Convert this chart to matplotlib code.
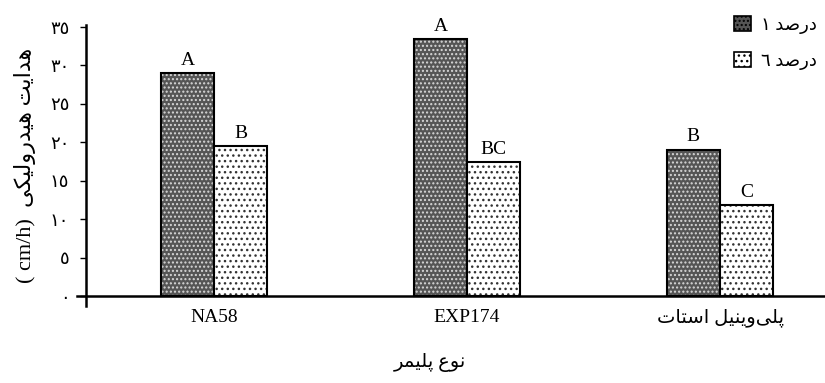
import numpy as np
import matplotlib
matplotlib.use("Agg")
import matplotlib.pyplot as plt
from matplotlib.patches import Patch

# data
categories = ["NA58", "EXP174", "پلی\u200cوینیل استات"]
one_pct = [29.0, 33.4, 19.0]
six_pct = [19.5, 17.4, 11.8]
one_letters = ["A", "A", "B"]
six_letters = ["B", "BC", "C"]
yticks = [0, 5, 10, 15, 20, 25, 30, 35]

# persian/arabic letters: isolated, final, initial, medial (None = no join to next)
FORMS = {
    "ا": ("\uFE8D", "\uFE8E", None, None),
    "د": ("\uFEA9", "\uFEAA", None, None),
    "ر": ("\uFEAD", "\uFEAE", None, None),
    "و": ("\uFEED", "\uFEEE", None, None),
    "ص": ("\uFEB9", "\uFEBA", "\uFEBB", "\uFEBC"),
    "ه": ("\uFEE9", "\uFEEA", "\uFEEB", "\uFEEC"),
    "ی": ("\uFBFC", "\uFBFD", "\uFBFE", "\uFBFF"),
    "ت": ("\uFE95", "\uFE96", "\uFE97", "\uFE98"),
    "ل": ("\uFEDD", "\uFEDE", "\uFEDF", "\uFEE0"),
    "ک": ("\uFB8E", "\uFB8F", "\uFB90", "\uFB91"),
    "ن": ("\uFEE5", "\uFEE6", "\uFEE7", "\uFEE8"),
    "ع": ("\uFEC9", "\uFECA", "\uFECB", "\uFECC"),
    "پ": ("\uFB56", "\uFB57", "\uFB58", "\uFB59"),
    "م": ("\uFEE1", "\uFEE2", "\uFEE3", "\uFEE4"),
    "س": ("\uFEB1", "\uFEB2", "\uFEB3", "\uFEB4"),
}


def fa(text):
    # shape letters and put them in visual (left to right) order
    out = []
    for i, c in enumerate(text):
        if c not in FORMS:
            out.append(c)
            continue
        prev = text[i - 1] if i > 0 else None
        nxt = text[i + 1] if i + 1 < len(text) else None
        jp = prev in FORMS and FORMS[prev][2] is not None
        jn = nxt in FORMS and FORMS[c][2] is not None
        iso, fin, ini, med = FORMS[c]
        if jp and jn:
            out.append(med)
        elif jp:
            out.append(fin)
        elif jn:
            out.append(ini)
        else:
            out.append(iso)
    return "".join(out).replace("\u200c", "")[::-1]


def ar_num(n):
    return "".join(chr(0x0660 + int(d)) for d in str(n))


fam = ["Liberation Serif", "DejaVu Sans"]
plt.rcParams["hatch.linewidth"] = 1.0

fig = plt.figure(figsize=(8.25, 3.83), dpi=100)
ax = fig.add_axes([86 / 825, 0.201, 1 - 86 / 825, 0.7337])

x = np.arange(len(categories))
w = 0.21
dark = "#555555"

ax.bar(x - w / 2, one_pct, w, color=dark, hatch="....", edgecolor="#d8d8d8", linewidth=0)
ax.bar(x - w / 2, one_pct, w, fill=False, edgecolor="black", linewidth=1.5)
ax.bar(x + w / 2, six_pct, w, color="white", hatch="...", edgecolor="#333333", linewidth=0)
ax.bar(x + w / 2, six_pct, w, fill=False, edgecolor="black", linewidth=1.5)

for xi, v, t in zip(x - w / 2, one_pct, one_letters):
    ax.text(xi, v + 0.6, t, ha="center", va="bottom", fontsize=14, family=fam)
for xi, v, t in zip(x + w / 2, six_pct, six_letters):
    ax.text(xi, v + 0.6, t, ha="center", va="bottom", fontsize=14, family=fam)

ax.set_xlim(-0.506, 2.415)
ax.set_ylim(-1.3, 35.26)
ax.axhline(0, xmin=-0.012, xmax=1, color="black", linewidth=1.8, clip_on=False)

ax.spines["top"].set_visible(False)
ax.spines["right"].set_visible(False)
ax.spines["bottom"].set_visible(False)
ax.spines["left"].set_linewidth(1.8)

ax.set_yticks(yticks)
ax.set_yticklabels([ar_num(v) for v in yticks], family=fam, fontsize=13)
ax.tick_params(axis="y", direction="out", length=4, width=1, pad=8)

ax.set_xticks(x)
ax.set_xticklabels([categories[0], categories[1], fa(categories[2])], family=fam, fontsize=14)
ax.tick_params(axis="x", length=0, pad=2)

fig.text(430 / 825, 1 - 363 / 383, fa("نوع پلیمر"), ha="center", va="center",
         fontsize=14, family=fam)
fig.text(25 / 825, 1 - 165 / 383, "( cm/h)  " + fa("هدایت هیدرولیکی"), rotation=90,
         ha="center", va="center", fontsize=16, family=fam)

handles = [
    Patch(facecolor=dark, hatch="....", edgecolor="black", linewidth=1.2),
    Patch(facecolor="white", hatch="...", edgecolor="black", linewidth=1.2),
]
labels = [ar_num(1) + " " + fa("درصد"), ar_num(6) + " " + fa("درصد")]
leg = fig.legend(handles, labels, loc="upper left", bbox_to_anchor=(718 / 825, 1.0),
                 frameon=False, handlelength=0.9, handleheight=0.9, labelspacing=1.0,
                 handletextpad=0.6, prop={"family": fam, "size": 13})

fig.savefig("out.png", dpi=100)
